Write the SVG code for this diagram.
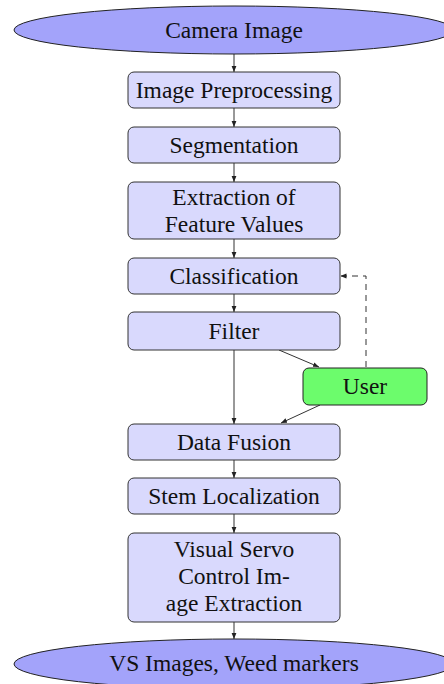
<svg xmlns="http://www.w3.org/2000/svg" width="444" height="684" viewBox="0 0 444 684">
  <style>
    .io { fill: #a3a3fa; stroke: #222; stroke-width: 1; }
    .step { fill: #d9d9fd; stroke: #333; stroke-width: 1; }
    .user { fill: #6cfc6c; stroke: #222; stroke-width: 1; }
    .lbl { font-family: "Liberation Serif", "Times New Roman", serif; font-size: 23.5px; fill: #111; text-anchor: middle; }
    .edge { fill: none; stroke: #333; stroke-width: 1; }
    .dash { stroke-dasharray: 6 5; }
  </style>
  <defs>
    <marker id="arrow" viewBox="0 0 6 6" refX="6" refY="3" markerWidth="6" markerHeight="6" markerUnits="userSpaceOnUse" orient="auto">
      <path d="M0,0.6 L6,3 L0,5.4 Z" fill="#222"/>
    </marker>
  </defs>
  <rect width="444" height="684" fill="#fff"/>

  <g id="connectors">
    <line class="edge" x1="234" y1="54" x2="234" y2="72" marker-end="url(#arrow)"/>
    <line class="edge" x1="234" y1="108" x2="234" y2="127" marker-end="url(#arrow)"/>
    <line class="edge" x1="234" y1="163" x2="234" y2="182" marker-end="url(#arrow)"/>
    <line class="edge" x1="234" y1="239" x2="234" y2="258" marker-end="url(#arrow)"/>
    <line class="edge" x1="234" y1="294" x2="234" y2="312" marker-end="url(#arrow)"/>
    <line class="edge" x1="234" y1="350" x2="234" y2="424" marker-end="url(#arrow)"/>
    <line class="edge" x1="279" y1="350" x2="319" y2="367" marker-end="url(#arrow)"/>
    <line class="edge" x1="320" y1="405" x2="281" y2="423" marker-end="url(#arrow)"/>
    <path class="edge dash" d="M366,367 V276 H340.5" marker-end="url(#arrow)"/>
    <line class="edge" x1="234" y1="460" x2="234" y2="478" marker-end="url(#arrow)"/>
    <line class="edge" x1="234" y1="514" x2="234" y2="533" marker-end="url(#arrow)"/>
    <line class="edge" x1="234" y1="622" x2="234" y2="639" marker-end="url(#arrow)"/>
  </g>

  <g id="camera-image">
    <ellipse class="io" cx="234" cy="30" rx="220" ry="24"/>
    <text class="lbl" x="234" y="37.5">Camera Image</text>
  </g>
  <g id="preprocessing">
    <rect class="step" x="128" y="72" width="212" height="36" rx="6"/>
    <text class="lbl" x="234" y="97.5">Image Preprocessing</text>
  </g>
  <g id="segmentation">
    <rect class="step" x="128" y="127" width="212" height="36" rx="6"/>
    <text class="lbl" x="234" y="152.5">Segmentation</text>
  </g>
  <g id="feature-extraction">
    <rect class="step" x="128" y="182" width="212" height="57" rx="6"/>
    <text class="lbl" x="234" y="205">Extraction of</text>
    <text class="lbl" x="234" y="232">Feature Values</text>
  </g>
  <g id="classification">
    <rect class="step" x="128" y="258" width="212" height="36" rx="6"/>
    <text class="lbl" x="234" y="283.5">Classification</text>
  </g>
  <g id="filter">
    <rect class="step" x="128" y="312" width="212" height="38" rx="6"/>
    <text class="lbl" x="234" y="338.5">Filter</text>
  </g>
  <g id="user">
    <rect class="user" x="303" y="368" width="124" height="37" rx="6"/>
    <text class="lbl" x="365" y="394">User</text>
  </g>
  <g id="data-fusion">
    <rect class="step" x="128" y="424" width="212" height="36" rx="6"/>
    <text class="lbl" x="234" y="449.5">Data Fusion</text>
  </g>
  <g id="stem-localization">
    <rect class="step" x="128" y="478" width="212" height="36" rx="6"/>
    <text class="lbl" x="234" y="503.5">Stem Localization</text>
  </g>
  <g id="visual-servo">
    <rect class="step" x="128" y="533" width="212" height="89" rx="6"/>
    <text class="lbl" x="234" y="557">Visual Servo</text>
    <text class="lbl" x="234" y="584">Control Im-</text>
    <text class="lbl" x="234" y="611">age Extraction</text>
  </g>
  <g id="vs-output">
    <ellipse class="io" cx="234" cy="664" rx="220" ry="25"/>
    <text class="lbl" x="234" y="671">VS Images, Weed markers</text>
  </g>
</svg>
